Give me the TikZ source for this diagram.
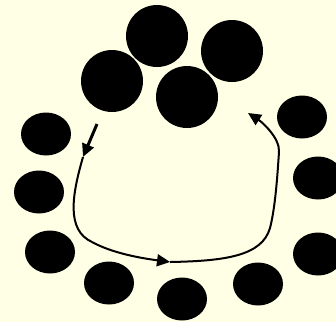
\documentclass[tikz,border=0pt]{standalone}
\usetikzlibrary{shapes.geometric, arrows.meta}
\definecolor{mycream}{RGB}{255,255,230}

\begin{document}
\begin{tikzpicture}[x=1pt, y=-1pt,
    bigdot/.style={circle, fill=black, minimum size=62pt, inner sep=0pt},
    smalldot/.style={ellipse, fill=black, minimum width=50pt, minimum height=43pt, inner sep=0pt},
    flow/.style={line width=2pt, -{Triangle[length=13pt, width=12pt]}}]

  \fill[mycream] (0,0) rectangle (336,322);
  \useasboundingbox (0,0) rectangle (336,322);

  % big dots on top
  \node[bigdot] (c1) at (112,81) {};
  \node[bigdot] (c2) at (157,36) {};
  \node[bigdot] (c3) at (232,51) {};
  \node[bigdot] (c4) at (187,97) {};

  % small dots round the ring
  \node[smalldot] (e1) at (46,134) {};
  \node[smalldot] (e2) at (39,192) {};
  \node[smalldot] (e3) at (50,252) {};
  \node[smalldot] (e4) at (109,283) {};
  \node[smalldot] (e5) at (182,299) {};
  \node[smalldot] (e6) at (258,284) {};
  \node[smalldot] (e7) at (318,254) {};
  \node[smalldot] (e8) at (318,178) {};
  \node[smalldot] (e9) at (302,117) {};

  % path points
  \coordinate (p0) at (97,124);
  \coordinate (p1) at (83,157);
  \coordinate (p2) at (170,262);
  \coordinate (p3) at (248,113);

  \draw[flow, line width=3pt] (p0) -- (p1);
  \draw[flow] (p1) .. controls (72,195) and (66,230) .. (92,242)
              .. controls (112,253) and (140,258) .. (p2);
  \draw[flow] (p2) .. controls (225,261) and (262,256) .. (270,228)
              .. controls (276,205) and (278,165) .. (279,152)
              .. controls (280,138) and (262,122) .. (p3);
\end{tikzpicture}
\end{document}
